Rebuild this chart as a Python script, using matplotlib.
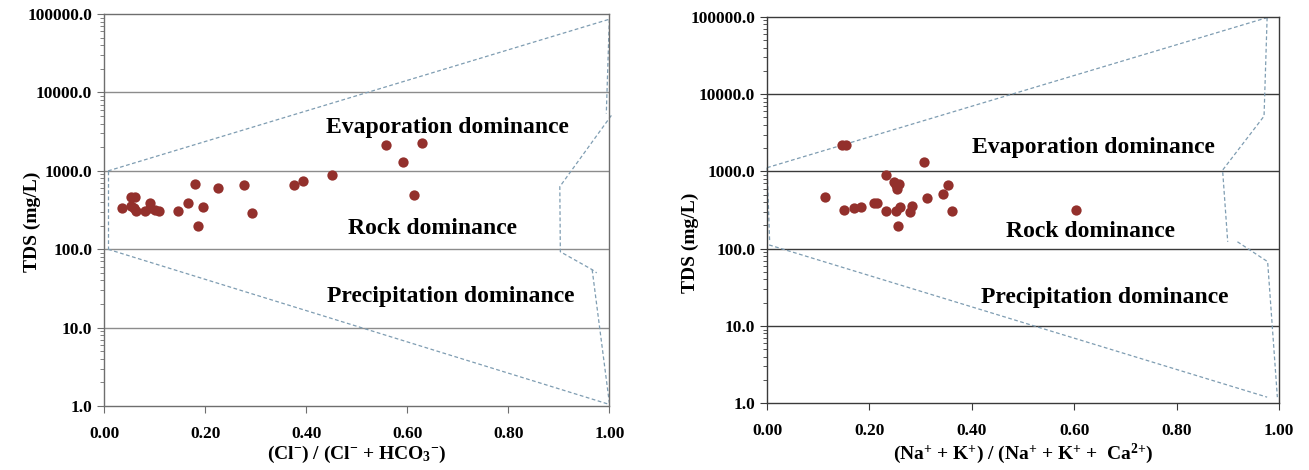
import matplotlib
matplotlib.use("Agg")
import matplotlib.pyplot as plt
from matplotlib.ticker import FixedLocator, FormatStrFormatter, LogLocator, NullFormatter

plt.rcParams['font.family'] = ['Liberation Serif', 'DejaVu Serif']
plt.rcParams['font.weight'] = 'bold'
plt.rcParams['mathtext.fontset'] = 'custom'
plt.rcParams['mathtext.rm'] = 'Liberation Serif:bold'
plt.rcParams['mathtext.it'] = 'Liberation Serif:bold'
plt.rcParams['mathtext.bf'] = 'Liberation Serif:bold'

# anion ratio Cl/(Cl+HCO3) vs TDS
cl_ratio = [0.035, 0.053, 0.061, 0.054, 0.059, 0.064, 0.082, 0.090, 0.090, 0.101,
            0.109, 0.147, 0.167, 0.180, 0.186, 0.195, 0.226, 0.277, 0.293, 0.375,
            0.393, 0.452, 0.557, 0.592, 0.614, 0.630]
cl_tds = [332, 459, 470, 352, 332, 310, 310, 393, 336, 316,
          310, 310, 393, 688, 199, 349, 600, 668, 292, 668,
          745, 898, 2133, 1304, 497, 2240]

# cation ratio (Na+K)/(Na+K+Ca) vs TDS
na_ratio = [0.114, 0.146, 0.155, 0.151, 0.169, 0.184, 0.208, 0.214, 0.232, 0.232,
            0.248, 0.251, 0.253, 0.257, 0.252, 0.256, 0.260, 0.279, 0.283, 0.307,
            0.313, 0.344, 0.354, 0.362, 0.604]
na_tds = [469, 2180, 2220, 321, 340, 348, 389, 389, 906, 312,
          741, 671, 590, 692, 306, 197, 345, 300, 362, 1324,
          455, 508, 671, 306, 315]

# Gibbs boundary polylines (x, TDS)
left_bounds = [
    ([0.008, 1.0], [1000, 86000]),
    ([0.008, 0.008], [1000, 100]),
    ([0.008, 1.0], [100, 1.05]),
    ([1.0, 0.994], [86000, 5400]),
    ([1.004, 0.902, 0.903, 0.966, 0.975], [5100, 630, 93, 55, 50]),
    ([0.966, 1.0], [55, 1.1]),
]
right_bounds = [
    ([0.0, 0.977], [1120, 98000]),
    ([0.0, 0.005], [1120, 125]),
    ([0.004, 0.977], [112, 1.2]),
    ([0.977, 0.971, 0.890, 0.900], [98000, 5200, 1040, 123]),
    ([0.919, 0.978, 0.997], [123, 68, 1.2]),
]

left_labels = [("Evaporation dominance", 0.679, 3620),
               ("Rock dominance", 0.651, 186),
               ("Precipitation dominance", 0.687, 25.3)]
right_labels = [("Evaporation dominance", 0.637, 2060),
                ("Rock dominance", 0.631, 169),
                ("Precipitation dominance", 0.660, 23.7)]

dot_color = '#93302c'
dash_color = '#7f9db2'


def draw_panel(ax, xs, ys, bounds, labels, xlabel, grid_color, frame_color, ylab_pos):
    ax.set_yscale('log')
    ax.set_xlim(0, 1)
    ax.set_ylim(1, 100000)
    for y in [10, 100, 1000, 10000]:
        ax.axhline(y, color=grid_color, lw=1.0, zorder=1)
    for bx, by in bounds:
        ax.plot(bx, by, color=dash_color, lw=0.9, ls=(0, (3, 2)), clip_on=False, zorder=2)
    ax.scatter(xs, ys, s=55, color=dot_color, zorder=3, linewidths=0)
    for txt, tx, ty in labels:
        ax.text(tx, ty, txt, ha='center', va='center', fontsize=17, fontweight='bold')
    ax.xaxis.set_major_locator(FixedLocator([0, 0.2, 0.4, 0.6, 0.8, 1.0]))
    ax.xaxis.set_major_formatter(FormatStrFormatter('%.2f'))
    ax.yaxis.set_major_locator(FixedLocator([1, 10, 100, 1000, 10000, 100000]))
    ax.yaxis.set_major_formatter(FormatStrFormatter('%.1f'))
    ax.yaxis.set_minor_locator(LogLocator(base=10, subs=range(2, 10)))
    ax.yaxis.set_minor_formatter(NullFormatter())
    ax.tick_params(axis='both', which='major', direction='out', length=5,
                   labelsize=12.5, color=frame_color)
    ax.tick_params(axis='x', which='major', pad=9)
    ax.tick_params(axis='y', which='minor', direction='out', length=3, color=frame_color)
    for s in ax.spines.values():
        s.set_color(frame_color)
        s.set_linewidth(1.0)
    ax.set_ylabel('TDS (mg/L)', fontsize=14, fontweight='bold')
    ax.yaxis.set_label_coords(*ylab_pos)
    ax.set_xlabel(xlabel, fontsize=14, fontweight='bold', labelpad=2)


def main():
    fig = plt.figure(figsize=(13.09, 4.70), dpi=100)
    ax1 = fig.add_axes([0.0795, 0.136, 0.386, 0.834])
    ax2 = fig.add_axes([0.586, 0.142, 0.391, 0.822])

    draw_panel(ax1, cl_ratio, cl_tds, left_bounds, left_labels,
               r'(Cl$^{-}$) / (Cl$^{-}$ + HCO$_{3}$$^{-}$)', '#8c8c8c', '#6e6e6e',
               (-0.125, 0.47))
    draw_panel(ax2, na_ratio, na_tds, right_bounds, right_labels,
               r'(Na$^{+}$ + K$^{+}$) / (Na$^{+}$ + K$^{+}$ +  Ca$^{2{+}}$)', '#3a3a3a', '#3a3a3a',
               (-0.133, 0.415))

    fig.savefig('out.png', dpi=100)


if __name__ == "__main__":
    main()
